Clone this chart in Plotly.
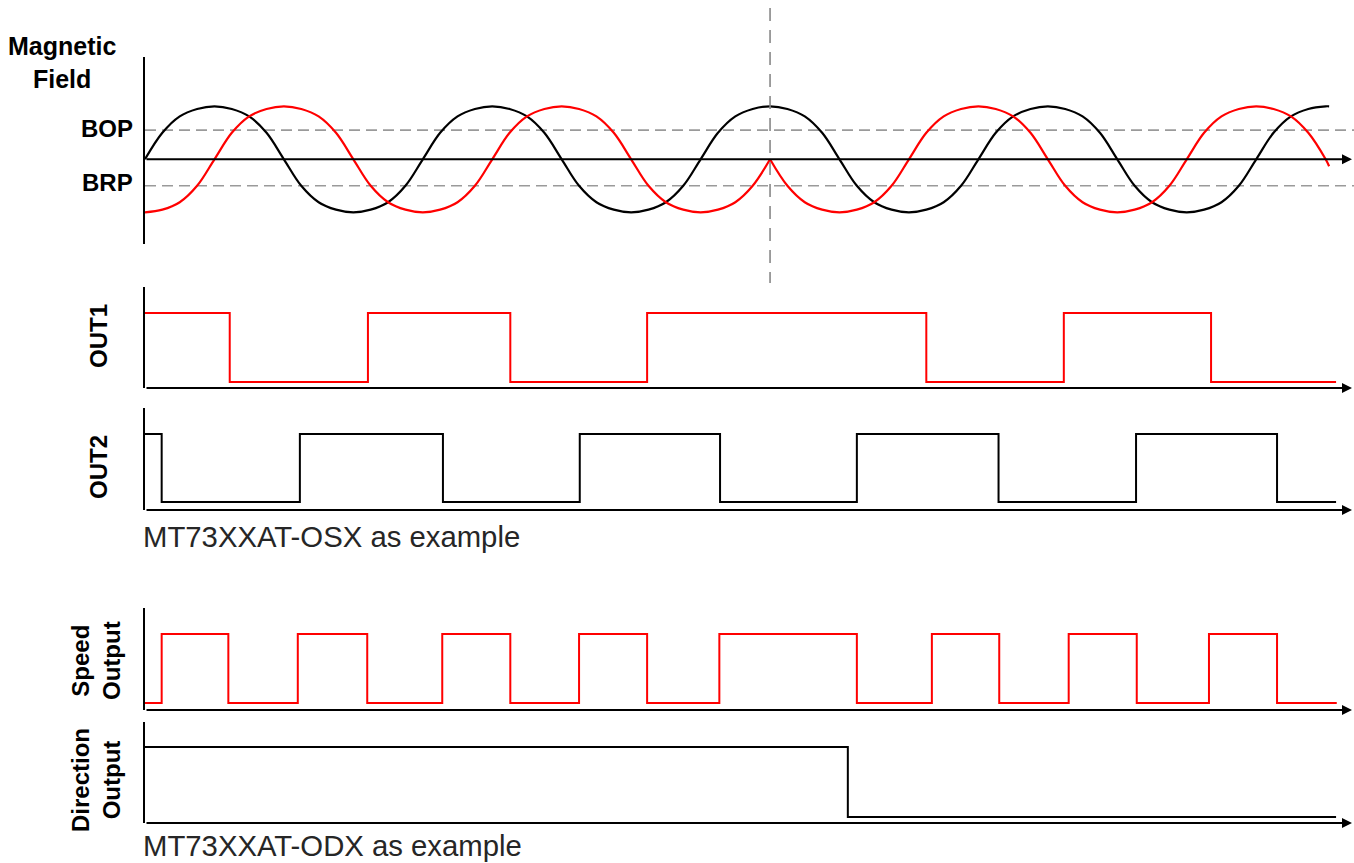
import plotly.graph_objects as go

W, H = 1354, 863

# ---------------- data ----------------
# time axis in quarter-periods of the magnet signal; field in amplitude units
sample_t = [0, 0.25, 0.5, 0.75, 1, 1.25, 1.5, 1.75, 2, 2.25, 2.5, 2.75,
            3, 3.25, 3.5, 3.75, 4, 4.25, 4.5, 4.75, 5, 5.25, 5.5, 5.75,
            6, 6.25, 6.5, 6.75, 7, 7.25, 7.5, 7.75, 8, 8.25, 8.5, 8.75,
            9, 9.25, 9.5, 9.75, 10, 10.25, 10.5, 10.75, 11, 11.25, 11.5, 11.75,
            12, 12.25, 12.5, 12.75, 13, 13.25, 13.5, 13.75, 14, 14.25, 14.5, 14.75,
            15, 15.25, 15.5, 15.75, 16, 16.25, 16.5, 16.75, 17, 17.05]

black_field = [0, .5, .81, .95, 1, .95, .81, .5, 0, -.5, -.81, -.95, -1, -.95, -.81, -.5,
               0, .5, .81, .95, 1, .95, .81, .5, 0, -.5, -.81, -.95, -1, -.95, -.81, -.5,
               0, .5, .81, .95, 1, .95, .81, .5, 0, -.5, -.81, -.95, -1, -.95, -.81, -.5,
               0, .5, .81, .95, 1, .95, .81, .5, 0, -.5, -.81, -.95, -1, -.95, -.81, -.5,
               0, .5, .81, .95, 1, 1.0]

# red signal before the direction reversal (t = 0 .. 9)
red_t_before = sample_t[:37]
red_field_before = [-1, -.95, -.81, -.5, 0, .5, .81, .95, 1, .95, .81, .5, 0, -.5, -.81, -.95,
                    -1, -.95, -.81, -.5, 0, .5, .81, .95, 1, .95, .81, .5, 0, -.5, -.81, -.95,
                    -1, -.95, -.81, -.5, 0]
# red signal after the reversal (t = 9 .. 17.05)
red_t_after = sample_t[36:]
red_field_after = [0, -.5, -.81, -.95, -1, -.95, -.81, -.5, 0, .5, .81, .95, 1, .95, .81, .5,
                   0, -.5, -.81, -.95, -1, -.95, -.81, -.5, 0, .5, .81, .95, 1, .95, .81, .5,
                   0, -.13]

BOP = 0.55
BRP = -0.5
reversal_t = 9.0

out1_t = [0, 1.22, 3.21, 5.26, 7.23, 11.25, 13.23, 15.35, 17.15]
out1_v = [1, 0, 1, 0, 1, 0, 1, 0, 0]

out2_t = [0, 0.24, 2.23, 4.29, 6.26, 8.28, 10.25, 12.29, 14.27, 16.3, 17.15]
out2_v = [1, 0, 1, 0, 1, 0, 1, 0, 1, 0, 0]

speed_t = [0, 0.24, 1.2, 2.2, 3.2, 4.28, 5.26, 6.25, 7.23, 8.27, 10.25, 11.33,
           12.3, 13.3, 14.28, 15.32, 16.3, 17.16]
speed_v = [0, 1, 0, 1, 0, 1, 0, 1, 0, 1, 0, 1, 0, 1, 0, 1, 0, 0]

dir_t = [0, 10.12, 17.15]
dir_v = [1, 0, 0]

field_labels = ["BOP", "BRP"]
row_labels = ["OUT1", "OUT2", "Speed<br>Output", "Direction<br>Output"]
captions = ["MT73XXAT-OSX as example", "MT73XXAT-ODX as example"]

# ---------------- layout geometry (pixels) ----------------
X0 = 145.0          # pixel of t = 0
PX_PER_T = 69.45    # pixels per quarter period
x_max = (W - X0) / PX_PER_T
arrow_tip = (1352 - X0) / PX_PER_T

RED = "#ff0000"
BLACK = "#000000"
GRAY = "#9a9a9a"
FONT = "Liberation Sans, Arial, sans-serif"


def ydom(top, bottom):
    return [1 - bottom / H, 1 - top / H]


def step_range(top, bottom, high, low):
    unit = low - high
    return [-(bottom - low) / unit, (low - top) / unit]


# magnetic panel: top 57, bottom 244, zero 159.3, amplitude 53 px
mag_zero, mag_amp = 159.3, 53.0
panels = [
    dict(dom=ydom(57, 244), rng=[-(244 - mag_zero) / mag_amp, (mag_zero - 57) / mag_amp], base=0.0),
    dict(dom=ydom(287, 388), rng=step_range(287, 388, 313, 382)),
    dict(dom=ydom(408, 510), rng=step_range(408, 510, 434, 502)),
    dict(dom=ydom(608, 710), rng=step_range(608, 710, 634, 703)),
    dict(dom=ydom(722, 823), rng=step_range(722, 823, 747, 817)),
]
for p in panels[1:]:
    p["base"] = p["rng"][0]

fig = go.Figure()

# dashed thresholds
for val in (BOP, BRP):
    fig.add_trace(go.Scatter(x=[0, x_max], y=[val, val], mode="lines",
                             line=dict(color=GRAY, width=1.6, dash="11px,6px"),
                             xaxis="x", yaxis="y", hoverinfo="skip"))

fig.add_trace(go.Scatter(x=sample_t, y=black_field, mode="lines",
                         line=dict(color=BLACK, width=2.2, shape="spline", smoothing=1),
                         xaxis="x", yaxis="y"))
fig.add_trace(go.Scatter(x=red_t_before, y=red_field_before, mode="lines",
                         line=dict(color=RED, width=2.2, shape="spline", smoothing=1),
                         xaxis="x", yaxis="y"))
fig.add_trace(go.Scatter(x=red_t_after, y=red_field_after, mode="lines",
                         line=dict(color=RED, width=2.2, shape="spline", smoothing=1),
                         xaxis="x", yaxis="y"))

steps = [(out1_t, out1_v, RED), (out2_t, out2_v, BLACK),
         (speed_t, speed_v, RED), (dir_t, dir_v, BLACK)]
for i, (tt, vv, col) in enumerate(steps, start=2):
    fig.add_trace(go.Scatter(x=tt, y=vv, mode="lines",
                             line=dict(color=col, width=2, shape="hv"),
                             xaxis=f"x{i}", yaxis=f"y{i}"))

layout = dict(width=W, height=H, margin=dict(l=0, r=0, t=0, b=0),
              paper_bgcolor="white", plot_bgcolor="white",
              showlegend=False, hovermode=False)

annotations = []
for i, p in enumerate(panels, start=1):
    xs = "" if i == 1 else str(i)
    layout[f"xaxis{xs}"] = dict(domain=[X0 / W, 1], range=[0, x_max], visible=False,
                                anchor=f"y{xs}", fixedrange=True)
    layout[f"yaxis{xs}"] = dict(domain=p["dom"], range=p["rng"], anchor=f"x{xs}",
                                showline=True, linecolor=BLACK, linewidth=2,
                                showgrid=False, zeroline=False, showticklabels=False,
                                ticks="", fixedrange=True)
    annotations.append(dict(x=arrow_tip, y=p["base"], ax=0, ay=p["base"],
                            xref=f"x{xs}", yref=f"y{xs}", axref=f"x{xs}", ayref=f"y{xs}",
                            text="", showarrow=True, arrowhead=2, arrowsize=1,
                            arrowwidth=2, arrowcolor=BLACK))


def pa(px, py, text, size=24, bold=True, angle=0, xanchor="center", color=BLACK, align="center"):
    t = f"<b>{text}</b>" if bold else text
    return dict(x=px / W, y=1 - py / H, xref="paper", yref="paper", text=t,
                showarrow=False, textangle=angle, xanchor=xanchor, yanchor="middle",
                align=align, font=dict(family=FONT, size=size, color=color))


annotations.append(pa(62, 63, "Magnetic<br>Field", size=25))
annotations.append(pa(135, 128, field_labels[0], xanchor="right"))
annotations.append(pa(135, 182, field_labels[1], xanchor="right"))
annotations.append(pa(98, 336, row_labels[0], angle=-90))
annotations.append(pa(98, 467, row_labels[1], angle=-90))
annotations.append(pa(96, 661, row_labels[2], angle=-90))
annotations.append(pa(96, 780, row_labels[3], angle=-90))
annotations.append(pa(141, 536, captions[0], size=29.3, bold=False, xanchor="left", color="#262626"))
annotations.append(pa(141, 845, captions[1], size=29.3, bold=False, xanchor="left", color="#262626"))

layout["annotations"] = annotations
layout["shapes"] = [dict(type="line", xref="x", yref="paper", x0=reversal_t, x1=reversal_t,
                         y0=1 - 8 / H, y1=1 - 283 / H,
                         line=dict(color="#888888", width=1.6, dash="13px,9px"))]

fig.update_layout(**layout)
fig.write_html("out.html", config={"displayModeBar": False, "staticPlot": True},
               post_script="document.body.style.margin='0';document.body.style.overflow='hidden';")
